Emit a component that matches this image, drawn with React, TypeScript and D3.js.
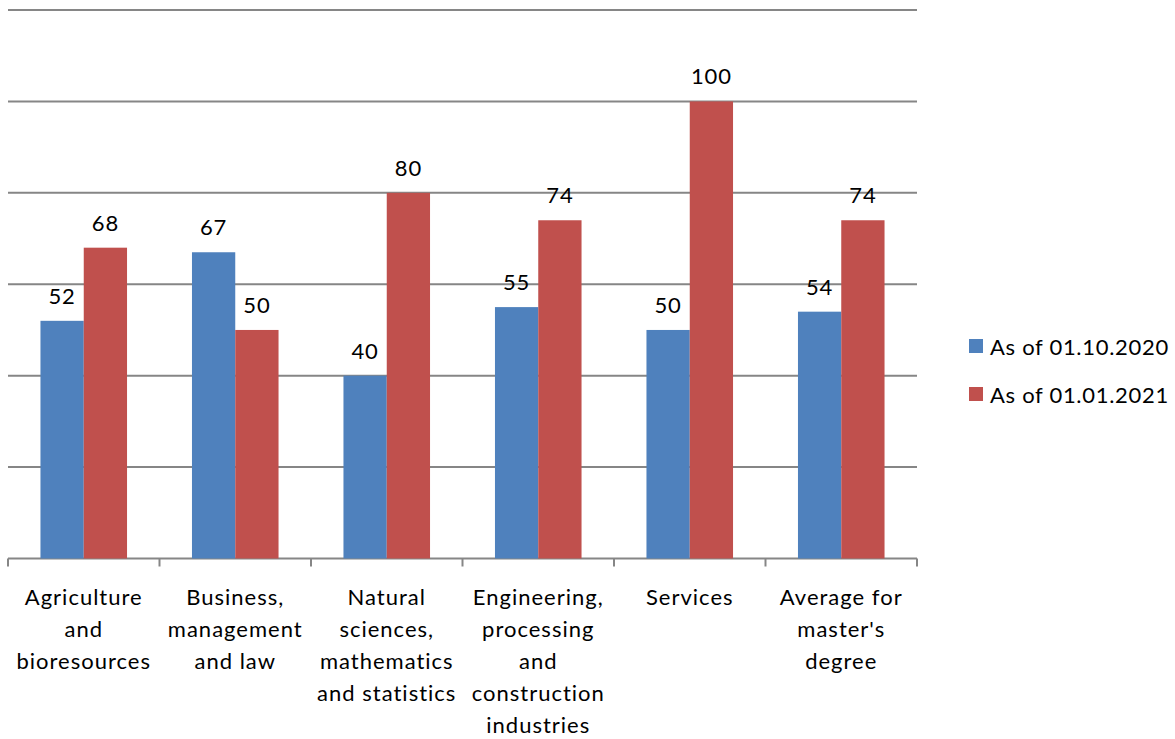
import React from "react";
import * as d3 from "d3";

const categories: string[][] = [
  ["Agriculture", "and", "bioresources"],
  ["Business,", "management", "and law"],
  ["Natural", "sciences,", "mathematics", "and statistics"],
  ["Engineering,", "processing", "and", "construction", "industries"],
  ["Services"],
  ["Average for", "master's", "degree"],
];
const series1Name = "As of 01.10.2020";
const series2Name = "As of 01.01.2021";
const series1: number[] = [52, 67, 40, 55, 50, 54];
const series2: number[] = [68, 50, 80, 74, 100, 74];
const yTicks: number[] = [0, 20, 40, 60, 80, 100, 120];

const W = 1175;
const H = 739;
const left = 8;
const right = 917;
const top = 10;
const bottom = 558.5;
const FONT = "Lato, 'Open Sans', sans-serif";
const BLUE = "#4F81BD";
const RED = "#C0504D";
const GRID = "#868686";

export default function App() {
  const idx = categories.map((_, i) => String(i));
  const x = d3.scaleBand<string>().domain(idx).range([left, right]).paddingInner(0).paddingOuter(0);
  const y = d3.scaleLinear().domain([0, 120]).range([bottom, top]);
  const step = x.bandwidth();
  const barW = step / 3.5;
  const groupOff = (step - 2 * barW) / 2;
  const series = [
    { name: series1Name, values: series1, color: BLUE },
    { name: series2Name, values: series2, color: RED },
  ];
  return (
    <svg
      width={W}
      height={H}
      style={{ position: "absolute", left: 0, top: 0, background: "#fff" }}
      fontFamily={FONT}
    >
      {yTicks.map((t) => (
        <line key={t} x1={left} x2={right} y1={y(t)} y2={y(t)} stroke={GRID} strokeWidth={2} />
      ))}
      {d3.range(categories.length + 1).map((i) => {
        const xx = left + i * step;
        return <line key={i} x1={xx} x2={xx} y1={bottom} y2={bottom + 8} stroke={GRID} strokeWidth={2} />;
      })}
      {series.map((s, si) =>
        s.values.map((v, i) => {
          const bx = (x(String(i)) as number) + groupOff + si * barW;
          return (
            <g key={`${si}-${i}`}>
              <rect x={bx} y={y(v)} width={barW} height={bottom - y(v)} fill={s.color} />
              <text
                x={bx + barW / 2}
                y={y(v) - 17}
                textAnchor="middle"
                fontSize={22}
                letterSpacing={0.8}
                fill="#000"
              >
                {v}
              </text>
            </g>
          );
        })
      )}
      {categories.map((lines, i) => (
        <text key={i} textAnchor="middle" fontSize={22} letterSpacing={1} fill="#000">
          {lines.map((ln, j) => (
            <tspan key={j} x={(x(String(i)) as number) + step / 2} y={605 + j * 32}>
              {ln}
            </tspan>
          ))}
        </text>
      ))}
      {series.map((s, si) => (
        <g key={s.name} transform={`translate(969, ${339 + si * 48})`}>
          <rect x={0} y={0} width={14} height={14} fill={s.color} />
          <text x={21} y={16} fontSize={22} letterSpacing={0.7} fill="#000">
            {s.name}
          </text>
        </g>
      ))}
    </svg>
  );
}
